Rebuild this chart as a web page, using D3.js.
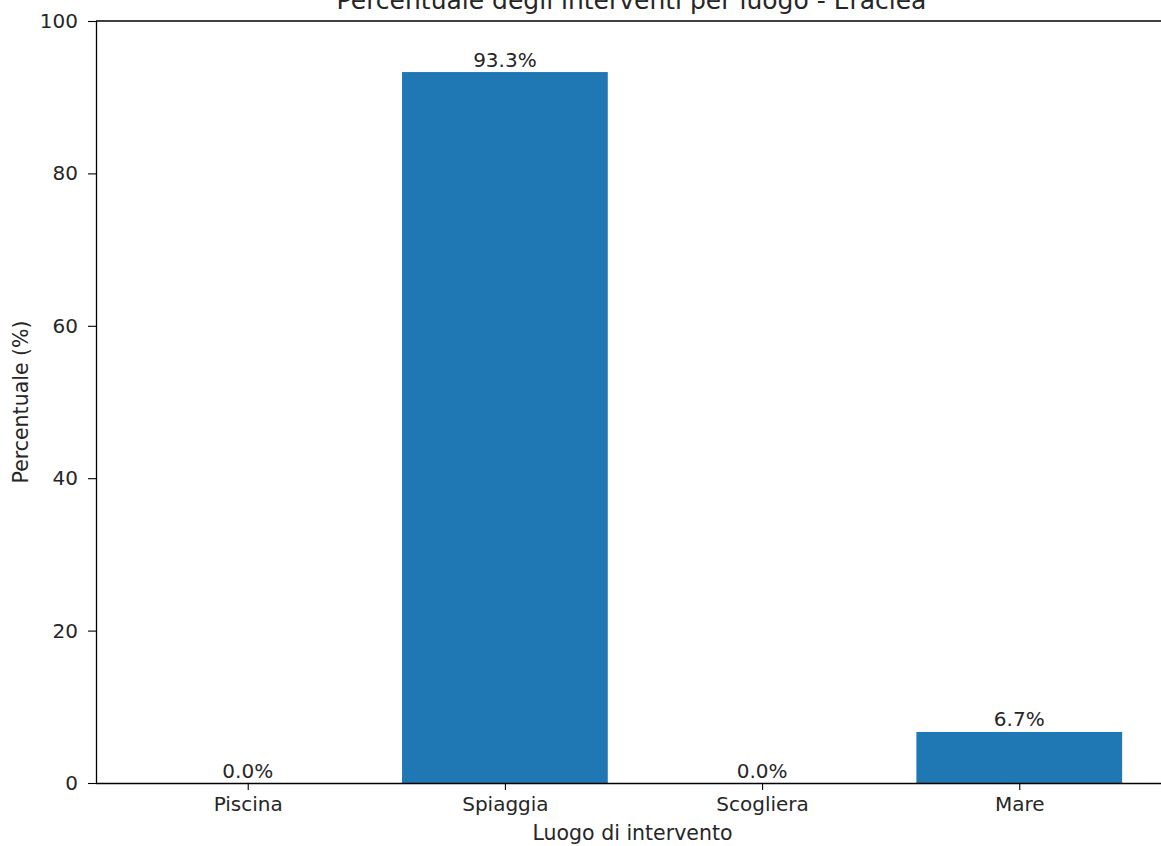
<!DOCTYPE html>
<html>
<head>
<meta charset="utf-8">
<script src="https://cdn.jsdelivr.net/npm/d3@7"></script>
<style>
  html, body { margin: 0; padding: 0; background: #ffffff; overflow: hidden; }
  svg { display: block; }
  text { font-family: "DejaVu Sans", sans-serif; fill: #262626; }
</style>
</head>
<body>
<svg id="chart" width="1161" height="846"></svg>
<script>
const categories = ["Piscina", "Spiaggia", "Scogliera", "Mare"];
const values = [0.0, 93.3, 0.0, 6.7];
const yTicks = [0, 20, 40, 60, 80, 100];
const titleText = "Percentuale degli interventi per luogo - Eraclea";
const xLabel = "Luogo di intervento";
const yLabel = "Percentuale (%)";

const svg = d3.select("#chart");
const mLeft = 96, mRight = 1171, mTop = 21, mBottom = 783;
const fs = 20;
const fsLab = 20.5;

const x = d3.scaleLinear().domain([-0.59, 3.59]).range([mLeft, mRight]);
const y = d3.scaleLinear().domain([0, 100]).range([mBottom, mTop]);
const barW = x(0.8) - x(0);

svg.append("rect").attr("width", 1161).attr("height", 846).attr("fill", "#ffffff");

svg.selectAll("rect.bar").data(values).enter().append("rect")
  .attr("class", "bar")
  .attr("x", (d, i) => x(i) - barW / 2)
  .attr("y", d => y(d))
  .attr("width", barW)
  .attr("height", d => y(0) - y(d))
  .attr("fill", "#1f77b4");

svg.selectAll("text.val").data(values).enter().append("text")
  .attr("class", "val")
  .attr("x", (d, i) => x(i))
  .attr("y", d => y(d) - 5.5)
  .attr("text-anchor", "middle")
  .attr("font-size", fs)
  .text(d => d.toFixed(1) + "%");

// y axis
const yAxis = d3.axisLeft(y).tickValues(yTicks).tickSize(8).tickPadding(10).tickFormat(d3.format("d"));
const gy = svg.append("g").attr("transform", `translate(${mLeft},0)`).call(yAxis);
gy.select(".domain").attr("stroke", "#000").attr("stroke-width", 1.3).attr("d", `M0.5,${mBottom}V${mTop}`);
gy.selectAll(".tick line").attr("stroke", "#000").attr("stroke-width", 1.1);
gy.selectAll(".tick text").attr("font-size", fs).attr("font-family", "DejaVu Sans").attr("fill", "#262626");

// x axis
const xAxis = d3.axisBottom(x).tickValues(d3.range(categories.length)).tickSize(7).tickPadding(7.2)
  .tickFormat(i => categories[i]);
const gx = svg.append("g").attr("transform", `translate(0,${mBottom})`).call(xAxis);
gx.select(".domain").attr("stroke", "#000").attr("stroke-width", 1.3).attr("d", `M${mLeft},0.5H${mRight}`);
gx.selectAll(".tick line").attr("stroke", "#000").attr("stroke-width", 1.1);
gx.selectAll(".tick text").attr("font-size", fs).attr("font-family", "DejaVu Sans").attr("fill", "#262626");

// top / right spines
svg.append("line").attr("x1", mLeft).attr("x2", mRight).attr("y1", mTop).attr("y2", mTop)
  .attr("stroke", "#000").attr("stroke-width", 1.3);
svg.append("line").attr("x1", mRight).attr("x2", mRight).attr("y1", mTop).attr("y2", mBottom)
  .attr("stroke", "#000").attr("stroke-width", 1.3);

// title
svg.append("text").attr("x", (mLeft + mRight) / 2 - 2).attr("y", 9)
  .attr("text-anchor", "middle").attr("font-size", 25).text(titleText);

// axis labels
svg.append("text").attr("x", (mLeft + mRight) / 2 - 1).attr("y", 840)
  .attr("text-anchor", "middle").attr("font-size", fsLab).text(xLabel);
svg.append("text").attr("transform", `translate(28,${(mTop + mBottom) / 2}) rotate(-90)`)
  .attr("text-anchor", "middle").attr("font-size", fsLab).text(yLabel);
</script>
</body>
</html>
